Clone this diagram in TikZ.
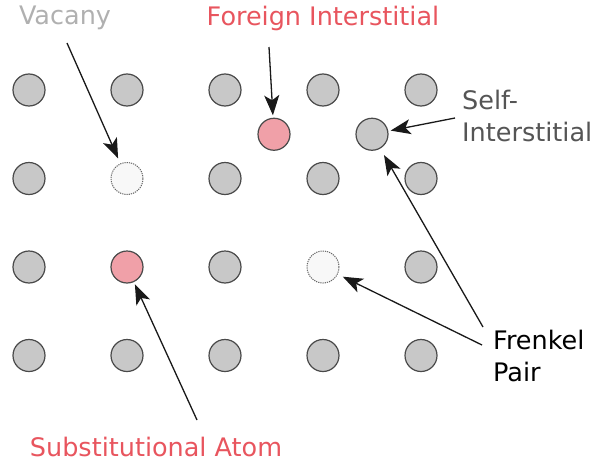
\documentclass[tikz,border=0pt]{standalone}
\usepackage{fontspec}
\setmainfont{DejaVu Sans}
\usetikzlibrary{positioning,arrows.meta,calc}
\definecolor{atomgray}{HTML}{C8C8C8}
\definecolor{atomedge}{HTML}{4A4A4A}
\definecolor{atomred}{HTML}{F0A0A8}
\definecolor{vacfill}{HTML}{F8F8F8}
\definecolor{vacgray}{HTML}{B0B0B0}
\definecolor{defred}{HTML}{E8555E}
\definecolor{selfgray}{HTML}{555555}
\tikzset{
  atom/.style={circle,draw=atomedge,line width=1.2pt,fill=atomgray,
               minimum size=32pt,inner sep=0pt,outer sep=0pt},
  foreign/.style={atom,fill=atomred},
  vacant/.style={atom,draw=atomedge!85,fill=vacfill,densely dotted,line width=1pt},
  defect/.style={-{Stealth[length=20pt,width=15pt,inset=5pt]},line width=1.3pt,black!90},
  lbl/.style={font=\fontsize{25.5}{32}\selectfont,inner sep=0pt},
}

\begin{document}
\begin{tikzpicture}[x=1pt,y=-1pt,node distance=56.5pt and 66pt]
  \useasboundingbox (0,0) rectangle (592,466);
  % lattice, row by row
  \node[atom] (a1) at (29,90) {};
  \node[atom,right=of a1] (a2) {};
  \node[atom,right=of a2] (a3) {};
  \node[atom,right=of a3] (a4) {};
  \node[atom,right=of a4] (a5) {};
  \node[atom,below=of a1]    (b1) {};
  \node[vacant,right=of b1]  (b2) {};
  \node[atom,right=of b2]    (b3) {};
  \node[atom,right=of b3]    (b4) {};
  \node[atom,right=of b4]    (b5) {};
  \node[atom,below=of b1]    (c1) {};
  \node[foreign,right=of c1] (c2) {};
  \node[atom,right=of c2]    (c3) {};
  \node[vacant,right=of c3]  (c4) {};
  \node[atom,right=of c4]    (c5) {};
  \node[atom,below=of c1] (d1) {};
  \node[atom,right=of d1] (d2) {};
  \node[atom,right=of d2] (d3) {};
  \node[atom,right=of d3] (d4) {};
  \node[atom,right=of d4] (d5) {};
  % interstitials
  \node[foreign] (fi) at ($(a3)!0.5!(b4)$) {};
  \node[atom]    (si) at ($(a4)!0.5!(b5)$) {};
  % labels
  \node[lbl,text=vacgray] (vacLbl) at (65,18) {Vacany};
  \node[lbl,text=defred]  (fiLbl) at (323,18) {Foreign Interstitial};
  \node[lbl,text=selfgray,align=left,anchor=west] (siLbl) at (462,116) {Self-\\Interstitial};
  \node[lbl,text=black,align=left,anchor=west] (frLbl) at (493,356) {Frenkel\\Pair};
  \node[lbl,text=defred]  (subLbl) at (156,447) {Substitutional Atom};
  % arrow tails
  \coordinate (vacTail) at (67,43);
  \coordinate (fiTail) at (269,47);
  \coordinate (siTail) at (455,118);
  \coordinate (frTailA) at (483,327);
  \coordinate (frTailB) at (482,345);
  \coordinate (subTail) at (197,420);
  \draw[defect,shorten >=6pt] (vacTail) -- (b2);
  \draw[defect,shorten >=3pt] (fiTail) -- (fi);
  \draw[defect,shorten >=3pt] (siTail) -- (si);
  \draw[defect,shorten >=8pt] (frTailA) -- (si);
  \draw[defect,shorten >=6pt] (frTailB) -- (c4);
  \draw[defect,shorten >=3pt] (subTail) -- (c2);
\end{tikzpicture}
\end{document}
